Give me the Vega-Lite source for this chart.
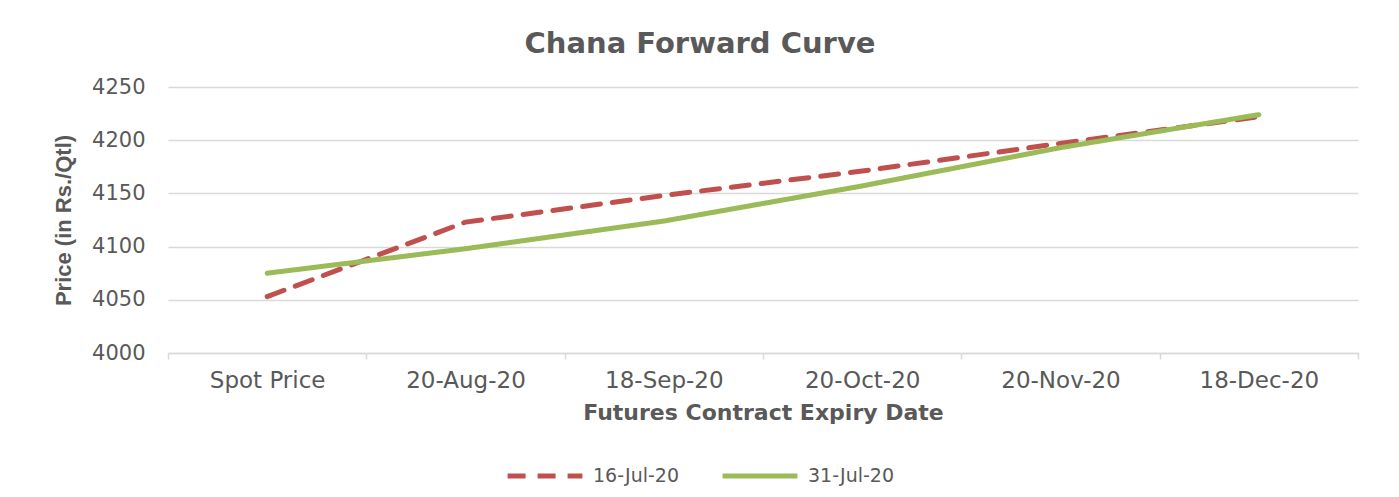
{
  "$schema": "https://vega.github.io/schema/vega-lite/v6.json",
  "width": 1190,
  "height": 266,
  "autosize": "none",
  "padding": {"left": 168, "top": 87, "right": 41, "bottom": 144},
  "background": "white",
  "title": {
    "text": "Chana Forward Curve",
    "font": "DejaVu Sans",
    "fontSize": 29,
    "fontWeight": "bold",
    "color": "#595959",
    "anchor": "middle",
    "dx": -63,
    "offset": 17
  },
  "data": {
    "values": [
      {"date": "Spot Price", "series": "16-Jul-20", "price": 4053},
      {"date": "20-Aug-20", "series": "16-Jul-20", "price": 4123},
      {"date": "18-Sep-20", "series": "16-Jul-20", "price": 4148},
      {"date": "20-Oct-20", "series": "16-Jul-20", "price": 4171},
      {"date": "20-Nov-20", "series": "16-Jul-20", "price": 4197},
      {"date": "18-Dec-20", "series": "16-Jul-20", "price": 4222},
      {"date": "Spot Price", "series": "31-Jul-20", "price": 4075},
      {"date": "20-Aug-20", "series": "31-Jul-20", "price": 4098},
      {"date": "18-Sep-20", "series": "31-Jul-20", "price": 4124},
      {"date": "20-Oct-20", "series": "31-Jul-20", "price": 4157},
      {"date": "20-Nov-20", "series": "31-Jul-20", "price": 4193},
      {"date": "18-Dec-20", "series": "31-Jul-20", "price": 4224}
    ]
  },
  "mark": {"type": "line", "strokeWidth": 5, "strokeCap": "round"},
  "encoding": {
    "x": {
      "field": "date",
      "type": "nominal",
      "sort": ["Spot Price", "20-Aug-20", "18-Sep-20", "20-Oct-20", "20-Nov-20", "18-Dec-20"],
      "scale": {"type": "band", "paddingInner": 0, "paddingOuter": 0},
      "axis": {
        "title": "Futures Contract Expiry Date",
        "titleFont": "DejaVu Sans",
        "titleFontSize": 22,
        "titleFontWeight": "bold",
        "titleColor": "#595959",
        "titlePadding": 10,
        "labelFont": "DejaVu Sans",
        "labelFontSize": 23,
        "labelColor": "#595959",
        "labelAngle": 0,
        "labelPadding": 10,
        "tickBand": "extent",
        "ticks": true,
        "tickSize": 6,
        "tickColor": "#D9D9D9",
        "tickWidth": 1.5,
        "domainColor": "#D9D9D9",
        "domainWidth": 1.5,
        "grid": false
      }
    },
    "y": {
      "field": "price",
      "type": "quantitative",
      "scale": {"domain": [4000, 4250], "nice": false, "zero": false},
      "axis": {
        "values": [4000, 4050, 4100, 4150, 4200, 4250],
        "format": "d",
        "title": "Price (in Rs./Qtl)",
        "titleFont": "Liberation Sans",
        "titleFontSize": 22,
        "titleFontWeight": "bold",
        "titleColor": "#595959",
        "titlePadding": 16,
        "labelFont": "DejaVu Sans",
        "labelFontSize": 21,
        "labelColor": "#595959",
        "labelPadding": 23,
        "ticks": false,
        "tickSize": 0,
        "domain": false,
        "grid": true,
        "gridColor": "#D9D9D9",
        "gridWidth": 1.5
      }
    },
    "color": {
      "field": "series",
      "type": "nominal",
      "scale": {"domain": ["16-Jul-20", "31-Jul-20"], "range": ["#C0504D", "#9BBB59"]},
      "legend": {
        "title": null,
        "orient": "none",
        "direction": "horizontal",
        "legendX": 337,
        "legendY": 349,
        "symbolType": "stroke",
        "symbolSize": 5600,
        "symbolStrokeWidth": 5,
        "labelFont": "DejaVu Sans",
        "labelFontSize": 19,
        "labelColor": "#595959",
        "labelOffset": 8,
        "columnPadding": 32
      }
    },
    "strokeDash": {
      "field": "series",
      "type": "nominal",
      "scale": {"domain": ["16-Jul-20", "31-Jul-20"], "range": [[18, 12], [1, 0]]},
      "legend": {
        "title": null,
        "orient": "none",
        "direction": "horizontal",
        "legendX": 337,
        "legendY": 349,
        "symbolType": "stroke",
        "symbolSize": 5600,
        "symbolStrokeWidth": 5,
        "labelFont": "DejaVu Sans",
        "labelFontSize": 19,
        "labelColor": "#595959",
        "labelOffset": 8,
        "columnPadding": 32
      }
    }
  },
  "config": {
    "view": {"stroke": null}
  }
}
